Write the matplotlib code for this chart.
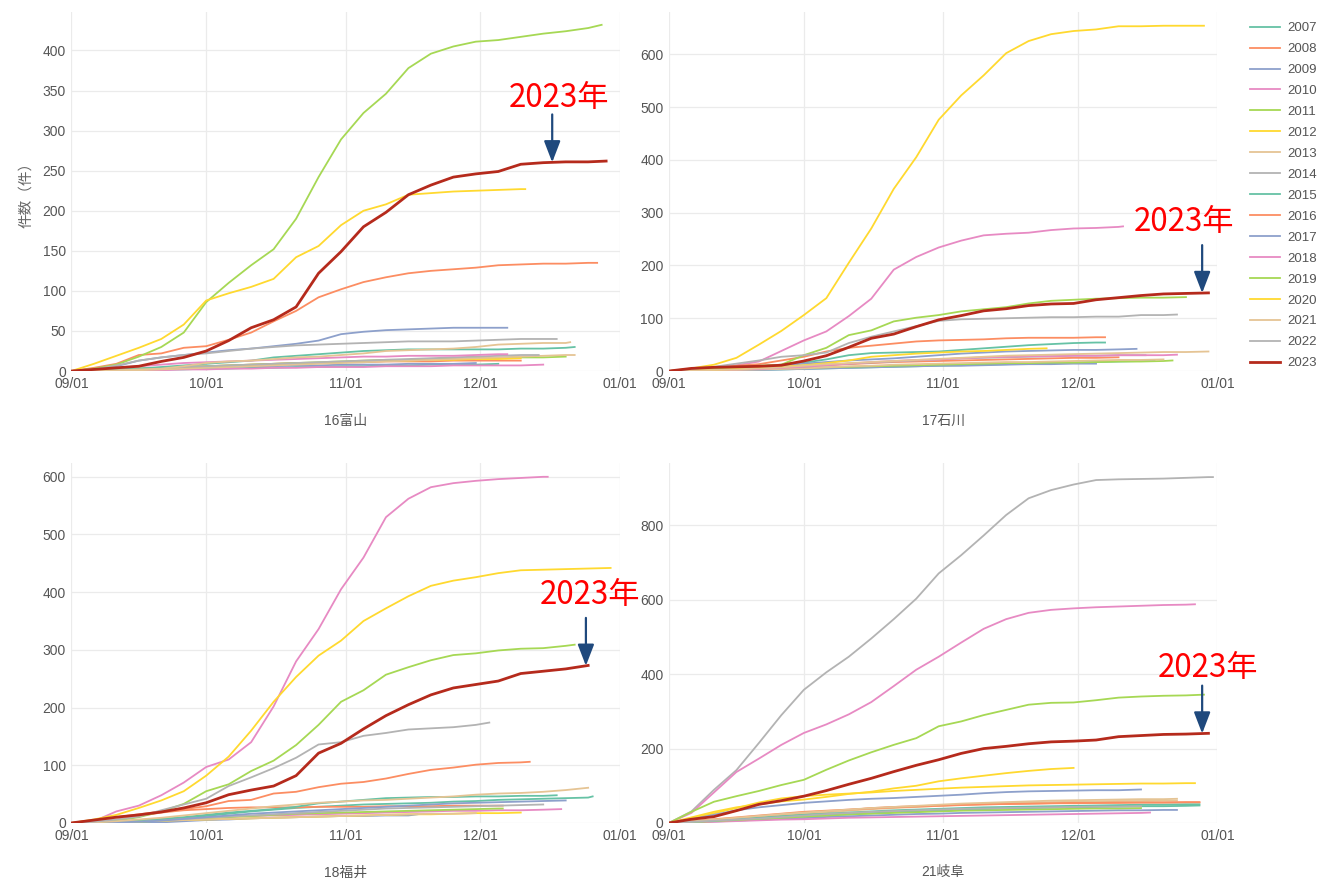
import matplotlib
matplotlib.use('Agg')
import numpy as np
from matplotlib import pyplot as plt
from matplotlib.lines import Line2D

plt.rcParams['font.family'] = ['Liberation Sans', 'Noto Sans CJK JP']

# days since 09/01, sampled every 5 days; last value of each series sits at its end day
grid = list(range(0, 125, 5))
years = list(range(2007, 2024))
month_pos = [0, 30, 61, 91, 122]
month_labels = ['09/01', '10/01', '11/01', '12/01', '01/01']

set2 = ['#66c2a5', '#fc8d62', '#8da0cb', '#e78ac3', '#a6d854', '#ffd92f', '#e5c494', '#b3b3b3']
colors = set2 + set2 + ['#b52a1c']

# (end day, cumulative counts)
toyama = {
    2007: (95, [0, 0, 1, 1, 2, 2, 3, 3, 4, 4, 5, 5, 6, 6, 7, 7, 8, 8, 8, 9]),
    2008: (100, [0, 1, 2, 3, 4, 5, 6, 7, 8, 9, 10, 10, 11, 11, 12, 12, 12, 13, 13, 13, 13]),
    2009: (90, [0, 0, 1, 2, 3, 4, 5, 5, 6, 6, 7, 7, 8, 8, 8, 9, 9, 9, 10]),
    2010: (105, [0, 0, 0, 1, 1, 2, 2, 3, 3, 4, 4, 5, 5, 5, 6, 6, 6, 7, 7, 7, 7, 8]),
    2011: (110, [0, 1, 2, 3, 4, 5, 6, 7, 8, 9, 10, 11, 12, 13, 14, 14, 15, 15, 16, 16, 17, 17, 18]),
    2012: (100, [0, 1, 1, 2, 3, 4, 5, 6, 7, 8, 9, 10, 11, 12, 13, 13, 14, 14, 15, 15, 16]),
    2013: (112, [0, 0, 1, 1, 2, 3, 4, 5, 6, 7, 8, 9, 10, 11, 12, 13, 14, 15, 16, 17, 18, 19, 20, 20]),
    2014: (104, [0, 1, 2, 3, 4, 5, 6, 7, 8, 9, 10, 11, 12, 13, 14, 15, 16, 17, 18, 19, 20, 20]),
    2015: (112, [0, 1, 2, 3, 5, 7, 9, 11, 13, 17, 19, 21, 23, 25, 26, 27, 27, 27, 27, 27, 28, 28, 29, 30]),
    2016: (117, [0, 4, 9, 20, 22, 29, 31, 39, 48, 62, 75, 92, 102, 111, 117, 122, 125, 127, 129, 132,
                 133, 134, 134, 135, 135]),
    2017: (97, [0, 2, 6, 13, 17, 20, 23, 26, 28, 31, 34, 38, 46, 49, 51, 52, 53, 54, 54, 54, 54]),
    2018: (97, [0, 2, 4, 6, 8, 10, 11, 12, 13, 14, 15, 16, 17, 18, 18, 19, 19, 19, 20, 21, 21]),
    2019: (118, [0, 3, 8, 18, 30, 48, 86, 110, 132, 152, 190, 242, 289, 322, 346, 378, 396, 405, 411, 413,
                 417, 421, 424, 428, 432]),
    2020: (101, [0, 9, 19, 29, 40, 58, 88, 97, 105, 115, 142, 156, 182, 200, 208, 220, 222, 224, 225, 226,
                 227, 227]),
    2021: (111, [0, 0, 1, 2, 3, 6, 10, 12, 13, 15, 17, 18, 20, 22, 25, 26, 27, 28, 30, 33, 34, 35, 35, 36]),
    2022: (108, [0, 2, 7, 13, 17, 20, 22, 25, 28, 30, 32, 33, 34, 35, 36, 37, 37, 37, 38, 39, 40, 40, 40]),
    2023: (119, [0, 2, 4, 6, 12, 17, 25, 38, 54, 64, 80, 122, 149, 180, 198, 220, 232, 242, 246, 249,
                 258, 260, 261, 261, 262]),
}

ishikawa = {
    2007: (108, [0, 0, 1, 2, 2, 3, 4, 5, 6, 7, 8, 9, 10, 11, 12, 13, 14, 15, 16, 17, 18, 19, 19]),
    2008: (100, [0, 1, 2, 3, 5, 7, 9, 11, 13, 15, 17, 18, 19, 20, 21, 22, 23, 24, 25, 25, 26]),
    2009: (95, [0, 0, 1, 1, 2, 3, 4, 5, 6, 7, 8, 9, 10, 10, 11, 12, 13, 13, 14, 14]),
    2010: (101, [0, 3, 7, 11, 18, 38, 58, 75, 104, 137, 192, 216, 234, 247, 257, 260, 262, 267, 270, 271,
                 273, 274]),
    2011: (112, [0, 1, 2, 3, 4, 5, 6, 7, 8, 9, 10, 11, 12, 13, 14, 15, 15, 16, 16, 17, 18, 18, 19, 20]),
    2012: (119, [0, 5, 12, 25, 50, 76, 106, 138, 205, 270, 345, 405, 476, 522, 560, 602, 625, 638, 644, 647,
                 653, 653, 654, 654, 654]),
    2013: (110, [0, 1, 1, 2, 3, 4, 5, 7, 9, 10, 12, 13, 14, 15, 16, 17, 17, 18, 19, 20, 21, 21, 22]),
    2014: (106, [0, 1, 2, 4, 6, 8, 10, 12, 14, 16, 18, 20, 22, 24, 25, 26, 27, 28, 29, 29, 30, 30, 30]),
    2015: (97, [0, 2, 4, 7, 9, 12, 16, 22, 30, 34, 35, 36, 37, 40, 43, 46, 49, 51, 53, 54, 54]),
    2016: (97, [0, 3, 6, 10, 13, 20, 27, 37, 44, 48, 52, 56, 58, 59, 60, 62, 63, 63, 63, 64, 64]),
    2017: (104, [0, 1, 3, 5, 8, 11, 14, 17, 20, 22, 24, 27, 30, 33, 35, 37, 38, 39, 40, 40, 41, 42]),
    2018: (113, [0, 1, 2, 3, 4, 6, 8, 11, 14, 17, 19, 21, 22, 24, 26, 27, 28, 28, 29, 29, 30, 30, 30, 31]),
    2019: (115, [0, 3, 5, 7, 10, 12, 30, 44, 68, 77, 94, 101, 106, 113, 117, 121, 128, 133, 135, 137,
                 138, 139, 139, 140]),
    2020: (84, [0, 1, 2, 4, 6, 8, 11, 15, 20, 27, 30, 33, 35, 37, 38, 40, 42, 43]),
    2021: (120, [0, 1, 2, 3, 5, 7, 10, 13, 15, 17, 19, 21, 23, 25, 27, 29, 30, 31, 32, 33, 34, 35, 36, 36, 37]),
    2022: (113, [0, 4, 8, 14, 20, 27, 30, 35, 53, 65, 75, 85, 95, 98, 99, 100, 101, 102, 102, 103,
                 103, 106, 106, 107]),
    2023: (120, [0, 5, 7, 8, 9, 11, 19, 29, 45, 62, 70, 84, 97, 105, 114, 118, 124, 127, 128, 135,
                 139, 143, 146, 147, 148]),
}

fukui = {
    2007: (116, [0, 0, 1, 2, 4, 8, 12, 16, 20, 23, 26, 28, 30, 32, 33, 34, 35, 37, 38, 40, 41, 42, 43, 44, 46]),
    2008: (96, [0, 2, 6, 12, 18, 22, 24, 26, 27, 27, 27, 28, 28, 28, 29, 29, 29, 30, 30, 30, 30]),
    2009: (77, [0, 0, 0, 0, 1, 3, 5, 6, 8, 9, 10, 11, 12, 12, 13, 13, 15]),
    2010: (109, [0, 1, 2, 4, 5, 7, 9, 11, 12, 13, 14, 15, 16, 17, 18, 19, 20, 21, 21, 22, 22, 23, 24]),
    2011: (96, [0, 0, 1, 2, 4, 6, 8, 10, 12, 14, 16, 17, 18, 19, 20, 21, 22, 23, 24, 25, 25]),
    2012: (100, [0, 1, 2, 3, 4, 5, 6, 7, 8, 9, 10, 11, 12, 13, 14, 15, 15, 16, 17, 17, 18]),
    2013: (90, [0, 1, 2, 3, 4, 5, 6, 7, 8, 9, 10, 11, 12, 13, 14, 15, 16, 16, 17]),
    2014: (105, [0, 1, 2, 3, 5, 7, 9, 11, 13, 15, 17, 19, 21, 23, 25, 26, 27, 28, 29, 30, 31, 32]),
    2015: (108, [0, 1, 3, 5, 7, 10, 14, 18, 21, 24, 28, 34, 37, 40, 43, 44, 45, 45, 46, 46, 47, 47, 48]),
    2016: (102, [0, 5, 10, 15, 20, 24, 29, 38, 40, 51, 54, 62, 68, 71, 77, 85, 92, 96, 101, 104, 105, 106]),
    2017: (110, [0, 0, 1, 2, 4, 7, 10, 13, 16, 18, 20, 22, 24, 26, 28, 30, 32, 34, 35, 36, 37, 38, 39]),
    2018: (106, [0, 3, 20, 30, 48, 70, 97, 110, 140, 202, 280, 336, 405, 460, 530, 562, 582, 589, 593, 596,
                 598, 600, 600]),
    2019: (112, [0, 1, 4, 10, 20, 33, 55, 67, 90, 108, 135, 170, 210, 230, 257, 270, 282, 291, 294, 299,
                 302, 303, 307, 309]),
    2020: (120, [0, 6, 14, 26, 39, 55, 82, 115, 160, 210, 253, 290, 316, 350, 372, 393, 411, 420, 426, 433,
                 438, 439, 440, 441, 442]),
    2021: (115, [0, 1, 3, 6, 9, 13, 17, 21, 25, 29, 32, 35, 37, 39, 40, 42, 44, 46, 49, 51, 52, 54, 57, 61]),
    2022: (93, [0, 2, 6, 11, 22, 32, 42, 64, 79, 95, 113, 136, 140, 151, 156, 162, 164, 166, 170, 174]),
    2023: (115, [0, 5, 10, 14, 19, 26, 35, 49, 57, 64, 82, 121, 138, 163, 186, 205, 222, 234, 240, 246,
                 259, 263, 267, 273]),
}

gifu = {
    2007: (118, [0, 2, 5, 8, 11, 14, 17, 20, 23, 26, 29, 31, 33, 35, 37, 39, 40, 41, 42, 43, 44, 45, 45, 46, 47]),
    2008: (118, [0, 3, 7, 11, 15, 20, 25, 30, 35, 40, 43, 45, 47, 49, 50, 51, 52, 53, 53, 54, 54, 55, 55, 55, 55]),
    2009: (113, [0, 2, 4, 6, 9, 11, 13, 16, 18, 20, 22, 24, 25, 27, 28, 29, 30, 31, 32, 33, 34, 34, 35, 35]),
    2010: (107, [0, 1, 3, 5, 7, 9, 10, 12, 14, 15, 16, 17, 18, 19, 20, 21, 22, 23, 24, 25, 26, 27, 28]),
    2011: (105, [0, 2, 5, 8, 11, 14, 17, 20, 23, 25, 27, 29, 31, 33, 34, 35, 36, 37, 38, 39, 39, 40]),
    2012: (117, [0, 12, 26, 40, 55, 66, 72, 76, 79, 82, 86, 89, 92, 95, 97, 99, 101, 102, 103, 104,
                 105, 106, 106, 107, 107]),
    2013: (113, [0, 3, 7, 11, 15, 20, 25, 29, 33, 37, 40, 43, 46, 49, 51, 53, 55, 56, 57, 58, 59, 59, 60, 60]),
    2014: (121, [0, 31, 89, 142, 215, 290, 358, 405, 447, 496, 548, 603, 671, 720, 773, 828, 873, 895, 910, 922,
                 924, 925, 926, 928, 930, 930]),
    2015: (118, [0, 3, 6, 10, 14, 18, 22, 25, 28, 31, 34, 36, 38, 40, 42, 43, 44, 45, 46, 47, 48, 49, 49, 50, 50]),
    2016: (118, [0, 5, 10, 15, 20, 25, 30, 33, 36, 39, 42, 44, 46, 48, 50, 51, 52, 53, 54, 54, 55, 55, 55, 56, 56]),
    2017: (105, [0, 10, 22, 34, 42, 48, 54, 58, 62, 65, 67, 70, 73, 76, 80, 83, 85, 86, 87, 88, 88, 90]),
    2018: (117, [0, 27, 82, 137, 173, 210, 242, 265, 292, 325, 368, 412, 447, 485, 522, 548, 565, 573, 577, 580,
                 582, 584, 586, 587, 588]),
    2019: (119, [0, 30, 57, 72, 86, 102, 116, 143, 168, 190, 210, 228, 260, 273, 290, 304, 318, 323, 324, 330,
                 337, 340, 342, 343, 345]),
    2020: (90, [0, 15, 30, 42, 50, 58, 63, 70, 78, 84, 93, 100, 112, 120, 127, 134, 140, 145, 148]),
    2021: (113, [0, 4, 9, 14, 19, 24, 28, 32, 36, 40, 43, 46, 49, 52, 54, 56, 58, 60, 61, 62, 63, 64, 64, 65]),
    2022: (105, [0, 3, 6, 9, 12, 16, 20, 24, 27, 30, 32, 34, 36, 38, 39, 40, 41, 42, 43, 44, 44, 45]),
    2023: (120, [0, 10, 17, 33, 50, 60, 72, 87, 104, 120, 138, 155, 170, 187, 200, 206, 213, 218, 220, 223,
                 232, 235, 238, 239, 241]),
}

names = ['16富山', '17石川', '18福井', '21岐阜']
datasets = [toyama, ishikawa, fukui, gifu]
ylims = [448, 680, 624, 968]
ysteps = [50, 100, 100, 200]
arrow_days = [107, 118.6, 114.5, 118.6]
text_offsets = [(5, 46), (-13, 51), (3, 51), (4, 47)]

boxes = [
    [0.0541, 0.5798, 0.4153, 0.4066],
    [0.5068, 0.5798, 0.4155, 0.4066],
    [0.0541, 0.0680, 0.4153, 0.4077],
    [0.5068, 0.0680, 0.4155, 0.4077],
]


def series_xy(entry):
    end, vals = entry
    xs = grid[:len(vals) - 1] + [end]
    return xs, vals


fig = plt.figure(figsize=(13.2, 8.83), dpi=100)

for i in range(4):
    ax = fig.add_axes(boxes[i])
    data = datasets[i]
    for k, year in enumerate(years):
        xs, ys = series_xy(data[year])
        lw = 2.0 if year == 2023 else 1.3
        ax.plot(xs, ys, color=colors[k], lw=lw, solid_joinstyle='round', zorder=3 + (year == 2023))

    ax.set_xlim(0, 122)
    ax.set_ylim(0, ylims[i])
    ax.set_xticks(month_pos)
    ax.set_xticklabels(month_labels)
    ax.set_yticks(np.arange(0, ylims[i], ysteps[i]))
    ax.grid(True, color='#ebebeb', lw=0.9, zorder=0)
    ax.set_axisbelow(True)
    for s in ax.spines.values():
        s.set_visible(False)
    ax.tick_params(length=0, labelsize=10, labelcolor='#555555')
    ax.tick_params(axis='x', pad=4.5)
    ax.tick_params(axis='y', pad=4)
    ax.set_xlabel(names[i], fontsize=10, color='#555555', labelpad=16)
    if i == 0:
        ax.set_ylabel('件数（件）', fontsize=10.5, color='#666666', labelpad=7)

    # 2023 marker: arrow + label
    rx, ry = series_xy(data[2023])
    tx = arrow_days[i]
    ty = float(np.interp(tx, rx, ry))
    ax.annotate('', xy=(tx, ty), xytext=(0, 34.5), textcoords='offset points',
                arrowprops=dict(arrowstyle='-|>,head_width=0.5,head_length=1.3', color='#1f497d',
                                lw=1.6, shrinkA=0, shrinkB=0, mutation_scale=10),
                annotation_clip=False, zorder=6)
    ax.annotate('2023年', xy=(tx, ty), xytext=text_offsets[i], textcoords='offset points',
                ha='center', va='center', fontsize=22.5, color='#ff0000',
                family=['Noto Sans CJK JP', 'DejaVu Sans'], annotation_clip=False, zorder=7)

handles = [Line2D([], [], color=colors[k], lw=(2.0 if y == 2023 else 1.3)) for k, y in enumerate(years)]
fig.legend(handles, [str(y) for y in years], loc='upper left', bbox_to_anchor=(1250 / 1320, 1 - 22 / 883),
           frameon=False, fontsize=9.5, handlelength=2.3, handletextpad=0.5, labelspacing=0.66,
           borderpad=0, borderaxespad=0, labelcolor='#555555')

fig.savefig('out.png', dpi=100)
